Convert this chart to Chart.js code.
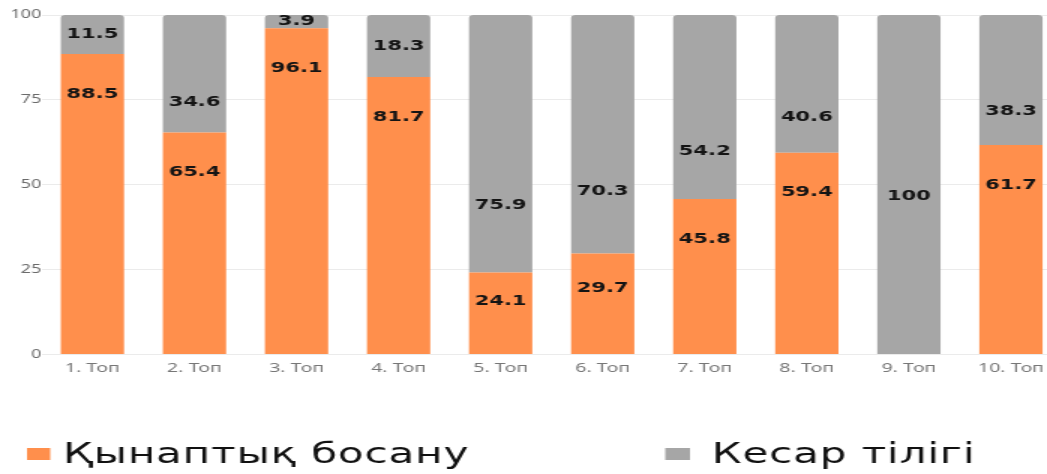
<!DOCTYPE html>
<html>
<head>
<meta charset="utf-8">
<script src="https://cdn.jsdelivr.net/npm/chart.js@4/dist/chart.umd.min.js"></script>
<style>
  html, body { margin: 0; padding: 0; background: #ffffff; overflow: hidden; }
  #wrap { position: absolute; left: 0; top: 0; width: 716px; height: 474px;
          transform: scaleX(1.5); transform-origin: 0 0; }
</style>
</head>
<body>
<div id="wrap"><canvas id="chart" width="716" height="474"></canvas></div>
<script>
// Groups along the x axis
const categories = ['1. Топ', '2. Топ', '3. Топ', '4. Топ', '5. Топ',
                    '6. Топ', '7. Топ', '8. Топ', '9. Топ', '10. Топ'];
// Share of each outcome per group, percent
const vaginalBirth = [88.5, 65.4, 96.1, 81.7, 24.1, 29.7, 45.8, 59.4, 0, 61.7];
const caesarean    = [11.5, 34.6, 3.9, 18.3, 75.9, 70.3, 54.2, 40.6, 100, 38.3];
// Names of the two series
const seriesNames = ['Қынаптық босану', 'Кесар тілігі'];
// Value axis ticks
const yTicks = [0, 25, 50, 75, 100];

const ORANGE = '#FF8F4C';
const GREY = '#A6A6A6';

// Writes each segment's value inside its bar
const valueLabels = {
  id: 'valueLabels',
  afterDatasetsDraw(chart) {
    const ctx = chart.ctx;
    const sets = chart.data.datasets;
    ctx.save();
    ctx.font = 'bold 14px "DejaVu Sans"';
    ctx.fillStyle = '#141414';
    ctx.textAlign = 'center';
    ctx.textBaseline = 'middle';
    sets.forEach((ds, di) => {
      const meta = chart.getDatasetMeta(di);
      meta.data.forEach((bar, i) => {
        const v = ds.data[i];
        if (!v) return;
        const h = bar.base - bar.y;
        let y;
        if (di === 0) {
          // just below the top of the lower segment
          y = bar.y + Math.min(40, h * 0.35);
        } else {
          // short or stand-alone segments: centred; otherwise in the lower part
          const alone = !sets[0].data[i];
          y = (h < 70 || alone) ? bar.y + h / 2 + (alone ? 12 : 0) : bar.y + h * 0.74;
        }
        ctx.fillText(String(v), bar.x, y);
      });
    });
    ctx.restore();
  }
};

// Legend row under the axis
const bottomLegend = {
  id: 'bottomLegend',
  afterDraw(chart) {
    const ctx = chart.ctx;
    const items = [
      { box: 18, boxW: 15.5, text: 42 },
      { box: 443.5, boxW: 16.5, text: 474.5 }
    ];
    ctx.save();
    ctx.font = '28px "DejaVu Sans"';
    ctx.letterSpacing = '0.6px';
    ctx.textBaseline = 'alphabetic';
    ctx.textAlign = 'left';
    chart.data.datasets.forEach((ds, i) => {
      const it = items[i];
      ctx.fillStyle = ds.backgroundColor;
      ctx.fillRect(it.box, 448, it.boxW, 12);
      ctx.fillStyle = '#111111';
      ctx.fillText(ds.label, it.text, 463);
    });
    ctx.restore();
  }
};

new Chart(document.getElementById('chart'), {
  type: 'bar',
  data: {
    labels: categories,
    datasets: [
      {
        label: seriesNames[0],
        data: vaginalBirth,
        backgroundColor: ORANGE,
        borderWidth: 0,
        borderRadius: 0
      },
      {
        label: seriesNames[1],
        data: caesarean,
        backgroundColor: GREY,
        borderWidth: 0,
        borderRadius: { topLeft: 3, topRight: 3, bottomLeft: 0, bottomRight: 0 },
        borderSkipped: false
      }
    ]
  },
  options: {
    responsive: false,
    animation: false,
    devicePixelRatio: 1,
    layout: { padding: { top: 15, right: 8, bottom: 92, left: 0 } },
    datasets: { bar: { barPercentage: 0.62, categoryPercentage: 1 } },
    plugins: {
      legend: { display: false },
      tooltip: { enabled: false }
    },
    scales: {
      x: {
        stacked: true,
        grid: { display: false, drawTicks: false },
        border: { display: false },
        ticks: {
          color: '#777777',
          padding: 6,
          font: { family: '"Noto Sans"', size: 13 },
          maxRotation: 0,
          autoSkip: false
        }
      },
      y: {
        stacked: true,
        min: 0,
        max: 100,
        afterBuildTicks(scale) {
          scale.ticks = yTicks.map(v => ({ value: v }));
        },
        afterFit(scale) { scale.width = 27.6; },
        grid: { color: '#EBEBEB', lineWidth: 1, drawTicks: false },
        border: { display: false },
        ticks: {
          color: '#6B6B6B',
          padding: 0,
          font: { family: '"Noto Sans"', size: 12 }
        }
      }
    }
  },
  plugins: [valueLabels, bottomLegend]
});
</script>
</body>
</html>
